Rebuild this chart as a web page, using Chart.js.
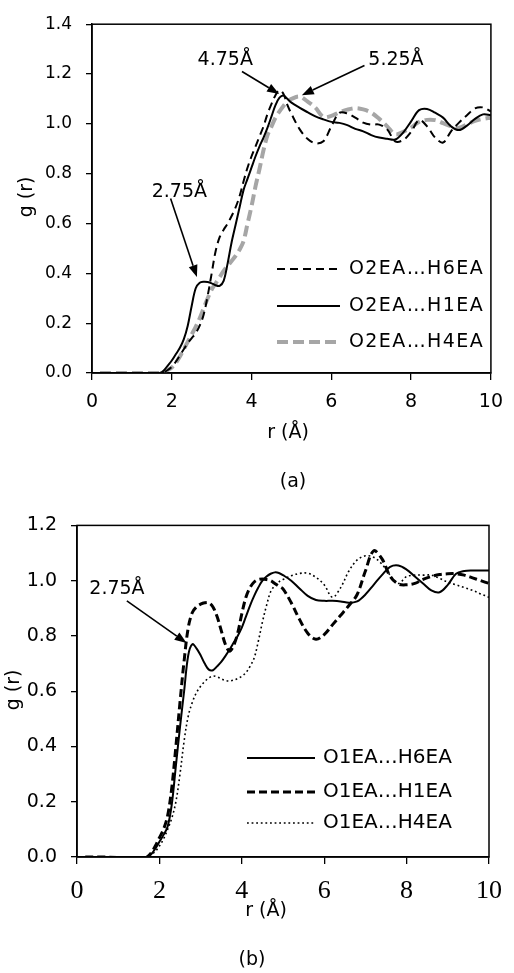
<!DOCTYPE html>
<html>
<head>
<meta charset="utf-8">
<script src="https://cdn.jsdelivr.net/npm/chart.js@4.4.1/dist/chart.umd.min.js"></script>
<style>
  html, body { margin: 0; padding: 0; background: #fff; }
  #wrap { position: relative; width: 514px; height: 973px; }
  #chartA { position: absolute; left: 0; top: 0; }
  #chartB { position: absolute; left: 0; top: 500px; }
</style>
</head>
<body>
<div id="wrap">
  <canvas id="chartA" width="514" height="500"></canvas>
  <canvas id="chartB" width="514" height="473"></canvas>
</div>
<script>
// =======================================
// DATA
// =======================================

// r (Å) sampling shared by every curve
const rValues = [0.2, 0.6, 1.0, 1.4,
  1.6, 1.7, 1.8, 1.9, 2.0, 2.1, 2.2, 2.3, 2.4, 2.5,
  2.6, 2.7, 2.8, 2.9, 3.0, 3.1, 3.2, 3.3, 3.4, 3.5,
  3.6, 3.7, 3.8, 3.9, 4.0, 4.1, 4.2, 4.3, 4.4, 4.5,
  4.6, 4.7, 4.8, 4.9, 5.0,
  5.2, 5.4, 5.6, 5.8, 6.0, 6.2, 6.4, 6.6, 6.8, 7.0,
  7.2, 7.4, 7.6, 7.8, 8.0, 8.2, 8.4, 8.6, 8.8, 9.0,
  9.2, 9.4, 9.6, 9.8, 10.0];

// (a) O2EA pairs
const gO2_H6 = [0, 0, 0, 0,
  0, 0, 0.003, 0.012, 0.025, 0.045, 0.07, 0.095, 0.12, 0.14,
  0.16, 0.19, 0.235, 0.31, 0.40, 0.49, 0.545, 0.575, 0.60, 0.63,
  0.665, 0.71, 0.77, 0.825, 0.87, 0.91, 0.95, 0.99, 1.04, 1.08,
  1.115, 1.135, 1.12, 1.075, 1.04,
  0.98, 0.94, 0.922, 0.93, 0.99, 1.044, 1.042, 1.025, 1.005, 0.997,
  0.997, 0.978, 0.93, 0.935, 0.968, 1.015, 0.99, 0.945, 0.925, 0.97,
  1.005, 1.035, 1.062, 1.066, 1.05];
const gO2_H1 = [0, 0, 0, 0,
  0, 0, 0.01, 0.03, 0.05, 0.075, 0.10, 0.135, 0.19, 0.27,
  0.34, 0.362, 0.366, 0.365, 0.36, 0.352, 0.35, 0.37, 0.44, 0.525,
  0.595, 0.665, 0.735, 0.78, 0.825, 0.87, 0.91, 0.945, 0.985, 1.03,
  1.075, 1.105, 1.114, 1.10, 1.085,
  1.065, 1.047, 1.03, 1.018, 1.008, 1.004, 0.995, 0.98, 0.97, 0.955,
  0.945, 0.94, 0.937, 0.965, 1.01, 1.055, 1.06, 1.045, 1.025, 0.99,
  0.975, 0.993, 1.02, 1.038, 1.035];
const gO2_H4 = [0, 0, 0, 0,
  0, 0, 0.005, 0.012, 0.022, 0.04, 0.065, 0.095, 0.125, 0.155,
  0.185, 0.22, 0.26, 0.30, 0.335, 0.36, 0.385, 0.41, 0.43, 0.45,
  0.47, 0.495, 0.53, 0.60, 0.67, 0.75, 0.82, 0.895, 0.955, 0.99,
  1.025, 1.05, 1.072, 1.09, 1.10,
  1.11, 1.09, 1.065, 1.028, 1.032, 1.046, 1.057, 1.063, 1.058, 1.045,
  1.02, 0.99, 0.958, 0.968, 0.985, 1.008, 1.016, 1.015, 1.003, 0.99,
  0.984, 0.998, 1.012, 1.02, 1.025];

// (b) O1EA pairs
const gO1_H6 = [0, 0, 0, -0.004,
  -0.004, 0, 0.01, 0.03, 0.055, 0.08, 0.11, 0.19, 0.33, 0.47,
  0.60, 0.73, 0.77, 0.755, 0.73, 0.70, 0.678, 0.676, 0.69, 0.706,
  0.727, 0.75, 0.775, 0.80, 0.83, 0.87, 0.91, 0.945, 0.975, 1.0,
  1.015, 1.025, 1.03, 1.028, 1.02,
  1.0, 0.972, 0.945, 0.93, 0.927, 0.927, 0.925, 0.92, 0.925, 0.95,
  0.985, 1.02, 1.05, 1.055, 1.04, 1.015, 0.99, 0.965, 0.958, 0.985,
  1.025, 1.035, 1.037, 1.037, 1.037];
const gO1_H1 = [0, 0, -0.002, -0.005,
  -0.005, 0, 0.015, 0.04, 0.07, 0.10, 0.15, 0.25, 0.40, 0.56,
  0.71, 0.83, 0.885, 0.905, 0.915, 0.92, 0.92, 0.905, 0.87, 0.82,
  0.77, 0.745, 0.765, 0.81, 0.88, 0.94, 0.975, 0.995, 1.004, 1.006,
  1.004, 1.0, 0.99, 0.98, 0.97,
  0.92, 0.86, 0.81, 0.788, 0.805, 0.84, 0.875, 0.91, 0.95, 1.035,
  1.108, 1.08, 1.016, 0.988, 0.985, 0.99, 1.005, 1.015, 1.022, 1.025,
  1.025, 1.02, 1.01, 1.0, 0.99];
const gO1_H4 = [0, 0, 0, -0.003,
  -0.003, 0, 0.008, 0.02, 0.04, 0.065, 0.10, 0.14, 0.20, 0.30,
  0.42, 0.51, 0.56, 0.595, 0.618, 0.635, 0.648, 0.655, 0.652, 0.645,
  0.639, 0.637, 0.64, 0.646, 0.654, 0.667, 0.69, 0.72, 0.78, 0.85,
  0.91, 0.96, 0.982, 0.996, 1.004,
  1.018, 1.026, 1.027, 1.012, 0.985, 0.94, 0.975, 1.035, 1.075, 1.09,
  1.085, 1.06, 1.02, 0.99, 1.015, 1.02, 1.02, 1.02, 1.008, 0.995,
  0.985, 0.975, 0.965, 0.952, 0.94];

const labelsA = ['O2EA…H6EA', 'O2EA…H1EA', 'O2EA…H4EA'];
const labelsB = ['O1EA…H6EA', 'O1EA…H1EA', 'O1EA…H4EA'];
const xTicks = [0, 2, 4, 6, 8, 10];

const SANS = '"DejaVu Sans", sans-serif';
const SERIF = '"Liberation Serif", "Times New Roman", serif';

function points(ys) {
  return rValues.map((r, i) => ({ x: r, y: ys[i] }));
}

// =======================================
// DECORATION PLUGIN (frame, legend, arrows, titles)
// =======================================

function drawArrow(ctx, x0, y0, x1, y1) {
  const ang = Math.atan2(y1 - y0, x1 - x0);
  const head = 12, half = 4.5;
  const bx = x1 - head * Math.cos(ang), by = y1 - head * Math.sin(ang);
  ctx.beginPath();
  ctx.moveTo(x0, y0);
  ctx.lineTo(bx, by);
  ctx.stroke();
  ctx.beginPath();
  ctx.moveTo(x1, y1);
  ctx.lineTo(bx + half * Math.sin(ang), by - half * Math.cos(ang));
  ctx.lineTo(bx - half * Math.sin(ang), by + half * Math.cos(ang));
  ctx.closePath();
  ctx.fill();
}

function makeDecor(cfg) {
  return {
    id: 'decor',
    afterDatasetsDraw(chart) {
      const { ctx, chartArea: a } = chart;
      const sx = chart.scales.x, sy = chart.scales.y;
      ctx.save();
      ctx.strokeStyle = '#000';
      ctx.fillStyle = '#000';
      ctx.lineWidth = 1.5;
      ctx.setLineDash([]);
      ctx.strokeRect(a.left, a.top, a.right - a.left, a.bottom - a.top);

      // annotation arrows + labels
      ctx.lineWidth = 1.6;
      cfg.arrows.forEach((ar) => {
        drawArrow(ctx, sx.getPixelForValue(ar.from[0]), sy.getPixelForValue(ar.from[1]),
          sx.getPixelForValue(ar.to[0]), sy.getPixelForValue(ar.to[1]));
      });
      ctx.font = cfg.noteFont;
      ctx.textAlign = 'center';
      ctx.textBaseline = 'middle';
      cfg.notes.forEach((n) => {
        ctx.fillText(n.text, sx.getPixelForValue(n.at[0]), sy.getPixelForValue(n.at[1]));
      });

      // legend
      const lg = cfg.legend;
      chart.data.datasets.forEach((ds, i) => {
        const y = lg.rows[i];
        ctx.save();
        ctx.strokeStyle = ds.borderColor;
        ctx.lineWidth = ds.borderWidth;
        ctx.setLineDash(ds.borderDash || []);
        ctx.beginPath();
        ctx.moveTo(lg.x0, y);
        ctx.lineTo(lg.x1, y);
        ctx.stroke();
        ctx.restore();
        ctx.font = lg.font;
        ctx.textAlign = 'left';
        ctx.letterSpacing = lg.spacing;
        ctx.fillText(ds.label, lg.tx, y);
        ctx.letterSpacing = '0px';
      });

      // axis titles and panel tag
      ctx.font = cfg.titleFont;
      ctx.textAlign = 'center';
      ctx.fillText('r (Å)', cfg.xTitle[0], cfg.xTitle[1]);
      ctx.fillText(cfg.tag, cfg.tagAt[0], cfg.tagAt[1]);
      ctx.save();
      ctx.translate(cfg.yTitle[0], cfg.yTitle[1]);
      ctx.rotate(-Math.PI / 2);
      ctx.fillText('g (r)', 0, 0);
      ctx.restore();
      ctx.restore();
    }
  };
}

// =======================================
// CHART BUILDER
// =======================================

function buildChart(el, opt) {
  return new Chart(el, {
    type: 'line',
    data: { datasets: opt.datasets },
    options: {
      responsive: false,
      animation: false,
      layout: { padding: opt.padding },
      plugins: { legend: { display: false }, tooltip: { enabled: false } },
      elements: { point: { radius: 0 }, line: { tension: 0.35 } },
      scales: {
        x: {
          type: 'linear', min: 0, max: 10,
          afterFit: (s) => { s.height = opt.xHeight; },
          afterBuildTicks: (s) => { s.ticks = xTicks.map((v) => ({ value: v })); },
          grid: { drawOnChartArea: false, tickLength: 7, color: '#000', lineWidth: 1.3 },
          border: { color: '#000', width: 1.5 },
          ticks: { color: '#000', padding: opt.xPad, font: opt.xFont, maxRotation: 0 }
        },
        y: {
          min: 0, max: opt.yMax,
          afterFit: (s) => { s.width = opt.yWidth; },
          grid: { drawOnChartArea: false, tickLength: 6, color: '#000', lineWidth: 1.3 },
          border: { color: '#000', width: 1.5 },
          ticks: {
            stepSize: 0.2, color: '#000', padding: 14, font: opt.yFont,
            callback: (v) => v.toFixed(1)
          }
        }
      }
    },
    plugins: [makeDecor(opt.decor)]
  });
}

// (a)
buildChart(document.getElementById('chartA'), {
  yMax: 1.4,
  padding: { left: 0, top: 20, right: 15, bottom: 0 },
  yWidth: 92,
  xHeight: 127,
  xPad: 11,
  xFont: { family: SANS, size: 19 },
  yFont: { family: SANS, size: 17 },
  datasets: [
    { label: labelsA[0], data: points(gO2_H6), borderColor: '#000', borderWidth: 2, borderDash: [8, 5] },
    { label: labelsA[1], data: points(gO2_H1), borderColor: '#000', borderWidth: 2 },
    { label: labelsA[2], data: points(gO2_H4), borderColor: '#a6a6a6', borderWidth: 4, borderDash: [11, 5] }
  ],
  decor: {
    noteFont: '19px ' + SANS,
    notes: [
      { text: '4.75Å', at: [3.34, 1.258] },
      { text: '5.25Å', at: [7.62, 1.258] },
      { text: '2.75Å', at: [2.19, 0.726] }
    ],
    arrows: [
      { from: [3.76, 1.21], to: [4.69, 1.12] },
      { from: [6.83, 1.234], to: [5.26, 1.115] },
      { from: [1.97, 0.70], to: [2.63, 0.385] }
    ],
    legend: { x0: 277, x1: 340, tx: 349, rows: [269, 306, 342], font: '19px ' + SANS, spacing: '1.4px' },
    titleFont: '19px ' + SANS,
    xTitle: [288, 433],
    yTitle: [27, 197],
    tag: '(a)',
    tagAt: [293, 482]
  }
});

// (b)
buildChart(document.getElementById('chartB'), {
  yMax: 1.2,
  padding: { left: 0, top: 18, right: 25, bottom: 0 },
  yWidth: 77,
  xHeight: 116,
  xPad: 12,
  xFont: { family: SERIF, size: 26 },
  yFont: { family: SANS, size: 19 },
  datasets: [
    { label: labelsB[0], data: points(gO1_H6), borderColor: '#000', borderWidth: 2 },
    { label: labelsB[1], data: points(gO1_H1), borderColor: '#000', borderWidth: 3, borderDash: [8, 4] },
    { label: labelsB[2], data: points(gO1_H4), borderColor: '#000', borderWidth: 1.6, borderDash: [1.8, 2.8] }
  ],
  decor: {
    noteFont: '19px ' + SANS,
    notes: [{ text: '2.75Å', at: [0.97, 0.97] }],
    arrows: [{ from: [1.21, 0.927], to: [2.66, 0.774] }],
    legend: { x0: 247, x1: 315, tx: 323, rows: [258, 292, 323], font: '20px ' + SANS, spacing: '0px' },
    titleFont: '19px ' + SANS,
    xTitle: [266, 411],
    yTitle: [14, 190],
    tag: '(b)',
    tagAt: [252, 460]
  }
});
</script>
</body>
</html>
